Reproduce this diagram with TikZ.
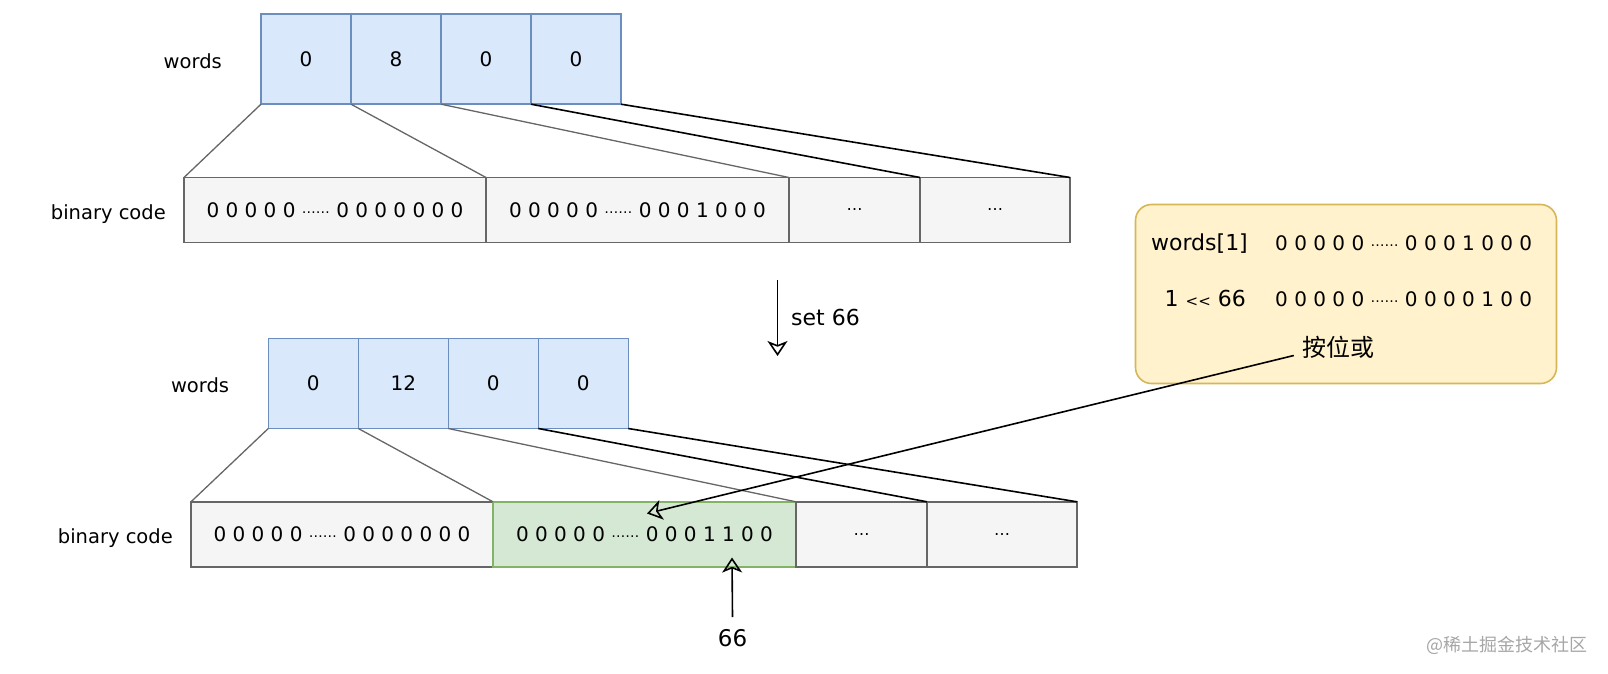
\documentclass[tikz,border=0pt]{standalone}
\usepackage{fontspec}
\setmainfont{DejaVu Sans}
\newfontfamily\cjk{Noto Sans CJK SC}
\usetikzlibrary{arrows.meta, positioning, calc}
\definecolor{wBlue}{HTML}{DAE8FC}
\definecolor{wBlueD}{HTML}{6C8EBF}
\definecolor{bGray}{HTML}{F5F5F5}
\definecolor{bGrayD}{HTML}{666666}
\definecolor{hGreen}{HTML}{D5E8D4}
\definecolor{hGreenD}{HTML}{82B366}
\definecolor{nYellow}{HTML}{FFF2CC}
\definecolor{nYellowD}{HTML}{D6B656}
\definecolor{wmark}{HTML}{A6A6A6}
\newcommand{\dotrun}{\raisebox{4pt}{\fontsize{14}{14}\selectfont……}}
\tikzset{
  lbl/.style={font=\fontsize{19.5}{22}\selectfont, inner sep=0pt},
  txt/.style={font=\fontsize{20}{24}\selectfont, inner sep=0pt},
  word/.style={draw=wBlueD, fill=wBlue, line width=1.4pt, minimum width=90pt, minimum height=90pt,
    outer sep=0pt, inner sep=0pt, font=\fontsize{20}{24}\selectfont},
  bits/.style={draw=bGrayD, fill=bGray, line width=1.4pt, minimum height=65pt,
    outer sep=0pt, inner sep=0pt, font=\fontsize{20}{24}\selectfont},
  bitsHit/.style={bits, draw=hGreenD, fill=hGreen},
  more/.style={bits, font=\fontsize{16}{16}\selectfont},
  link/.style={draw=bGrayD, line width=1.3pt},
  linkK/.style={draw=black, line width=1.6pt},
  arr/.style={draw=black, line width=1.6pt, -{Stealth[open, length=15pt, width=20pt, inset=4pt]}},
  note/.style={draw=nYellowD, fill=nYellow, line width=1.6pt, rounded corners=16pt,
    minimum width=421pt, minimum height=179pt},
}
\def\xWa{306}
\def\yWa{59.2}
\def\xBa{335}
\def\yBa{210}
\def\xWb{313.3}
\def\yWb{383.5}
\def\xBb{342}
\def\yBb{534.3}

\begin{document}
\begin{tikzpicture}[x=1pt, y=-1pt]
\useasboundingbox (0,0) rectangle (1608,674);

% ── before: words and their bits ─────────────────────────────────────────────
\node[word] (wa1) at (\xWa, \yWa) {0};
\node[word, right=0pt of wa1] (wa2) {8};
\node[word, right=0pt of wa2] (wa3) {0};
\node[word, right=0pt of wa3] (wa4) {0};
\node[lbl, left=39pt of wa1, yshift=-2pt] (wlA) {words};

\node[bits, minimum width=302pt] (ba1) at (\xBa, \yBa) {0 0 0 0 0 \dotrun\ 0 0 0 0 0 0 0};
\node[bits, minimum width=303pt, right=0pt of ba1] (ba2) {0 0 0 0 0 \dotrun\ 0 0 0 1 0 0 0};
\node[more, minimum width=131pt, right=0pt of ba2] (ba3) {…};
\node[more, minimum width=150pt, right=0pt of ba3] (ba4) {…};
\node[lbl, left=18pt of ba1, yshift=-4pt] (blA) {binary code};

\draw[link] (wa1.south west) -- (ba1.north west);
\draw[link] (wa1.south east) -- (ba1.north east);
\draw[link] (wa2.south east) -- (ba2.north east);
\draw[linkK] (wa3.south east) -- (ba3.north east);
\draw[linkK] (wa4.south east) -- (ba4.north east);

% ── set 66 ───────────────────────────────────────────────────────────────────
\coordinate (setTop) at (777.5, 280);
\coordinate (setBot) at (777.5, 356);
\draw[arr] (setTop) -- (setBot);
\node[lbl, font=\fontsize{22}{26}\selectfont, anchor=west] (setL) at (791, 317) {set 66};

% ── after: words and their bits ──────────────────────────────────────────────
\node[word] (wb1) at (\xWb, \yWb) {0};
\node[word, right=0pt of wb1] (wb2) {12};
\node[word, right=0pt of wb2] (wb3) {0};
\node[word, right=0pt of wb3] (wb4) {0};
\node[lbl, left=39pt of wb1, yshift=-2pt] (wlB) {words};

\node[bits, minimum width=302pt] (bb1) at (\xBb, \yBb) {0 0 0 0 0 \dotrun\ 0 0 0 0 0 0 0};
\node[bitsHit, minimum width=303pt, right=0pt of bb1] (bb2) {0 0 0 0 0 \dotrun\ 0 0 0 1 1 0 0};
\node[more, minimum width=131pt, right=0pt of bb2] (bb3) {…};
\node[more, minimum width=150pt, right=0pt of bb3] (bb4) {…};
\node[lbl, left=18pt of bb1, yshift=-4pt] (blB) {binary code};

\draw[link] (wb1.south west) -- (bb1.north west);
\draw[link] (wb1.south east) -- (bb1.north east);
\draw[link] (wb2.south east) -- (bb2.north east);
\draw[linkK] (wb3.south east) -- (bb3.north east);
\draw[linkK] (wb4.south east) -- (bb4.north east);

% ── note: bitwise or ─────────────────────────────────────────────────────────
\node[note] (note) at (1346, 294) {};
\node[txt, font=\fontsize{22}{26}\selectfont, anchor=base east] (nWord) at (1248, 250) {words[1]};
\node[txt, anchor=base west] (nWordB) at (1275, 250) {0 0 0 0 0 \dotrun\ 0 0 0 1 0 0 0};
\node[txt, font=\fontsize{22}{26}\selectfont, anchor=base east] (nShift) at (1246, 306.7)
  {1 {\fontsize{15}{15}\selectfont<\kern0pt<} 66};
\node[txt, anchor=base west] (nShiftB) at (1275, 306.7) {0 0 0 0 0 \dotrun\ 0 0 0 0 1 0 0};
\node[txt, font=\cjk\fontsize{24}{28}\selectfont] (bor) at (1338, 347.5) {按位或};

\coordinate (hitBit) at (647, 513.5);
\draw[arr] ([shift={(-8,8)}]bor.west) -- (hitBit);

% ── bit 66 ───────────────────────────────────────────────────────────────────
\node[txt, font=\fontsize{23}{27}\selectfont] (n66) at (732.5, 638) {66};
\coordinate (bit66) at (732, 557.5);
\draw[arr] ([yshift=12pt]n66.north) -- (bit66);

% watermark
\node[font=\cjk\fontsize{18}{20}\selectfont, text=wmark] (wm) at (1507, 645) {@稀土掘金技术社区};

\end{tikzpicture}
\end{document}
